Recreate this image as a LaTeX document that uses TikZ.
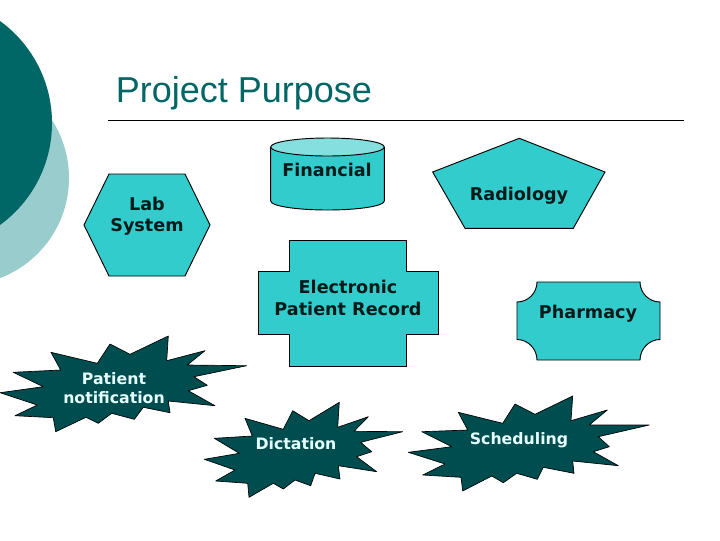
\documentclass[tikz,border=0pt]{standalone}
\usepackage{fontspec}
\setmainfont{DejaVu Sans}
\newfontfamily\titlefont{Liberation Sans}
\definecolor{tealdark}{HTML}{006666}
\definecolor{teallight}{HTML}{99CCCC}
\definecolor{cyanfill}{HTML}{33CCCC}
\definecolor{cyantop}{HTML}{85DFDF}
\definecolor{burstfill}{HTML}{004D50}
\definecolor{bursttext}{HTML}{E6FFFF}
\definecolor{systemink}{HTML}{001A1A}
\tikzset{
    system/.style={draw=black, line width=0.7pt, fill=cyanfill, line join=miter},
    burst/.style={draw=black, line width=0.5pt, fill=burstfill, line join=round},
    systemtext/.style={font=\fontsize{13.2}{16}\selectfont\bfseries, text=systemink, align=center, inner sep=0pt},
    bursttag/.style={font=\fontsize{11.8}{14.2}\selectfont\bfseries, text=bursttext, align=center, inner sep=0pt}
}

\begin{document}
\begin{tikzpicture}[x=0.75pt, y=-0.75pt]
    \clip (0, 0) rectangle (720, 540);
    \fill[white] (0, 0) rectangle (720, 540);

    \fill[teallight] (-38, 178) circle (107);
    \fill[tealdark] (-74, 123) circle (126);

    \node[font=\titlefont\fontsize{27}{32}\selectfont, text=tealdark, anchor=base west, inner sep=0pt] (title) at (115.5, 102) {Project Purpose};
    \draw[line width=0.5pt] (108, 120.5) -- (684, 120.5);

    % cylinder
    \draw[system] (270.7, 147) -- (270.7, 201) arc[start angle=180, end angle=0, x radius=56.8, y radius=9] -- (384.3, 147);
    \draw[system, fill=cyantop] (327.5, 147) ellipse [x radius=56.8, y radius=9];
    \draw[system] (84, 225) -- (109, 174) -- (185, 174) -- (210, 225) -- (185, 276) -- (109, 276) -- cycle;
    \draw[system] (519.3, 138.3) -- (605, 172) -- (573.3, 228.3) -- (465, 228.3) -- (432.7, 172) -- cycle;
    \draw[system] (289.3, 240.3) -- (406.3, 240.3) -- (406.3, 271.3) -- (438.5, 271.3) -- (438.5, 334.5) -- (406.3, 334.5) -- (406.3, 366) -- (289.3, 366) -- (289.3, 334.5) -- (258.5, 334.5) -- (258.5, 271.3) -- (289.3, 271.3) -- cycle;
    \draw[system] (537, 282) -- (640, 282) .. controls (640, 293) and (649, 302) .. (660, 302) -- (660, 339.5) .. controls (649, 339.5) and (640, 349) .. (640, 360) -- (537, 360) .. controls (537, 349) and (528, 339.5) .. (517, 339.5) -- (517, 302) .. controls (528, 302) and (537, 293) .. cycle;

    % bursts
    \draw[burst] (168.3, 336) -- (166.7, 360.7) -- (205, 350.7) -- (187.3, 365) -- (246.7, 365.7) -- (194, 376.7) -- (207.3, 385.3) -- (188.3, 390.7) -- (215, 405.7) -- (168.3, 401) -- (170, 412.7) -- (143.3, 407.3) -- (134.3, 419.3) -- (111.7, 413.3) -- (98.3, 423.3) -- (86, 417.3) -- (55.7, 431.7) -- (53.3, 417.7) -- (15, 415.7) -- (37.3, 405) -- (0, 392.7) -- (43.3, 386.7) -- (13.3, 372.3) -- (60.7, 370) -- (51, 352.3) -- (97.3, 363.3) -- (110, 344) -- (130, 354.3) -- cycle;
    \draw[burst] (339.3, 402.3) -- (337.7, 427.3) -- (368.3, 416.7) -- (354, 431.3) -- (402.7, 431.7) -- (360.7, 442.3) -- (371.7, 451.7) -- (356.7, 456.7) -- (376.7, 471.7) -- (338.3, 465.7) -- (340, 479) -- (315, 473.3) -- (310.7, 485.7) -- (295, 480) -- (283.3, 489) -- (273.3, 483.3) -- (249, 497.3) -- (247.7, 483.3) -- (215.7, 481) -- (235, 470) -- (204.3, 459.3) -- (239.3, 453.3) -- (214.3, 438.3) -- (252.3, 436) -- (245, 418.3) -- (283.3, 429.3) -- (292.7, 410.7) -- (309, 420.7) -- cycle;
    \draw[burst] (572.7, 396) -- (571, 420.7) -- (607.3, 410) -- (589.3, 425) -- (649.3, 425) -- (598.3, 436.7) -- (609.3, 446.7) -- (593.3, 451.7) -- (618.3, 465.7) -- (572.7, 461) -- (574, 473.3) -- (543.3, 467.3) -- (537.3, 479.3) -- (516.7, 473.3) -- (503.3, 482.7) -- (491.7, 476) -- (462.7, 491) -- (461, 477.3) -- (422.7, 475) -- (445, 464) -- (408.3, 452.3) -- (451.7, 446.7) -- (421.7, 431.7) -- (467.7, 430) -- (458.3, 412.3) -- (502.7, 423.3) -- (515, 404) -- (535, 414.3) -- cycle;

    \node[systemtext] (financial) at (327, 170) {Financial};
    \node[systemtext] (radiology) at (519, 195.5) {Radiology};
    \node[systemtext] (labsystem) at (147, 216) {Lab\\System};
    \node[systemtext, font=\fontsize{13.2}{16.5}\selectfont\bfseries] (record) at (348, 298) {Electronic\\Patient Record};
    \node[systemtext] (pharmacy) at (588, 313.5) {Pharmacy};
    \node[bursttag] (notification) at (114, 388) {Patient\\notification};
    \node[bursttag] (dictation) at (296, 444) {Dictation};
    \node[bursttag] (scheduling) at (519, 440) {Scheduling};
\end{tikzpicture}
\end{document}
